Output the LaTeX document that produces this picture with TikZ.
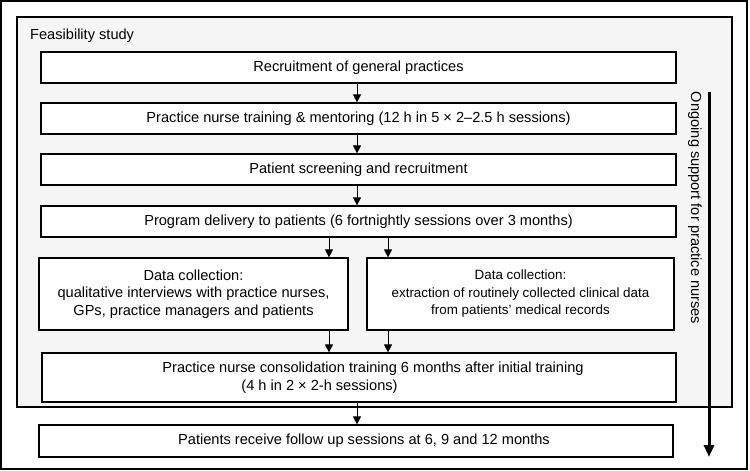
\documentclass[tikz,border=0pt]{standalone}
\usepackage{fontspec}
\setmainfont{Liberation Sans}
\usetikzlibrary{arrows.meta,calc}
\begin{document}
\begin{tikzpicture}[x=1pt,y=-1pt,
  every node/.style={font=\fontsize{14.6}{17.5}\selectfont},
  box/.style={draw,line width=1.2pt,fill=white,inner sep=0pt,align=center},
  arr/.style={line width=1pt,-{Triangle[length=8pt,width=8pt]}},
  lbl/.style={inner sep=0pt}]
\useasboundingbox (0,0) rectangle (750,471);
\draw[line width=1.4pt] (1,1) rectangle (747,469);
\draw[line width=1.2pt,fill=black!4] (17,17) rectangle (732,407);
\node[lbl,anchor=west] (fs) at (30,36) {Feasibility study};
\node[box,minimum width=635pt,minimum height=31pt] (b1) at (358.5,67.5) {Recruitment of general practices};
\node[box,minimum width=635pt,minimum height=31pt] (b2) at (358.5,118.5) {Practice nurse training \& mentoring (12 h in 5 × 2–2.5 h sessions)};
\node[box,minimum width=635pt,minimum height=31pt] (b3) at (358.5,169.5) {Patient screening and recruitment};
\node[box,minimum width=635pt,minimum height=31pt] (b4) at (358.5,221.5) {Program delivery to patients (6 fortnightly sessions over 3 months)};
\node[box,minimum width=309pt,minimum height=72pt] (dl) at (193.5,294) {Data collection:\\qualitative interviews with practice nurses,\\GPs, practice managers and patients};
\node[box,minimum width=307pt,minimum height=72pt,font=\fontsize{13.4}{17.5}\selectfont] (dr) at (520.5,294) {Data collection:\\extraction of routinely collected clinical data\\from patients' medical records};
\node[box,minimum width=634pt,minimum height=49pt,align=left] (cs) at (359,377.5) {\hspace*{28pt}Practice nurse consolidation training 6 months after initial training\\\hspace*{107pt}(4 h in 2 × 2-h sessions)};
\node[box,minimum width=634pt,minimum height=32pt] (pt) at (356,441) {\hspace*{16pt}Patients receive follow up sessions at 6, 9 and 12 months};
\coordinate (xl) at (329,0);
\coordinate (xr) at (388,0);
\coordinate (xm) at (357,0);
\draw[arr] (b1.south -| xm) -- (b2.north -| xm);
\draw[arr] (b2.south -| xm) -- (b3.north -| xm);
\draw[arr] (b3.south -| xm) -- (b4.north -| xm);
\draw[arr] (b4.south -| xl) -- (dl.north -| xl);
\draw[arr] (b4.south -| xr) -- (dr.north -| xr);
\draw[arr] (dl.south -| xl) -- (cs.north -| xl);
\draw[arr] (dr.south -| xr) -- (cs.north -| xr);
\draw[arr] (cs.south -| xm) -- (pt.north -| xm);
\coordinate (st) at (709,92);
\coordinate (se) at (709,457);
\draw[line width=3pt,-{Triangle[length=12pt,width=10pt]}] (st) -- (se);
\node[lbl,rotate=-90] (sup) at (695,208) {Ongoing support for practice nurses};
\end{tikzpicture}
\end{document}
